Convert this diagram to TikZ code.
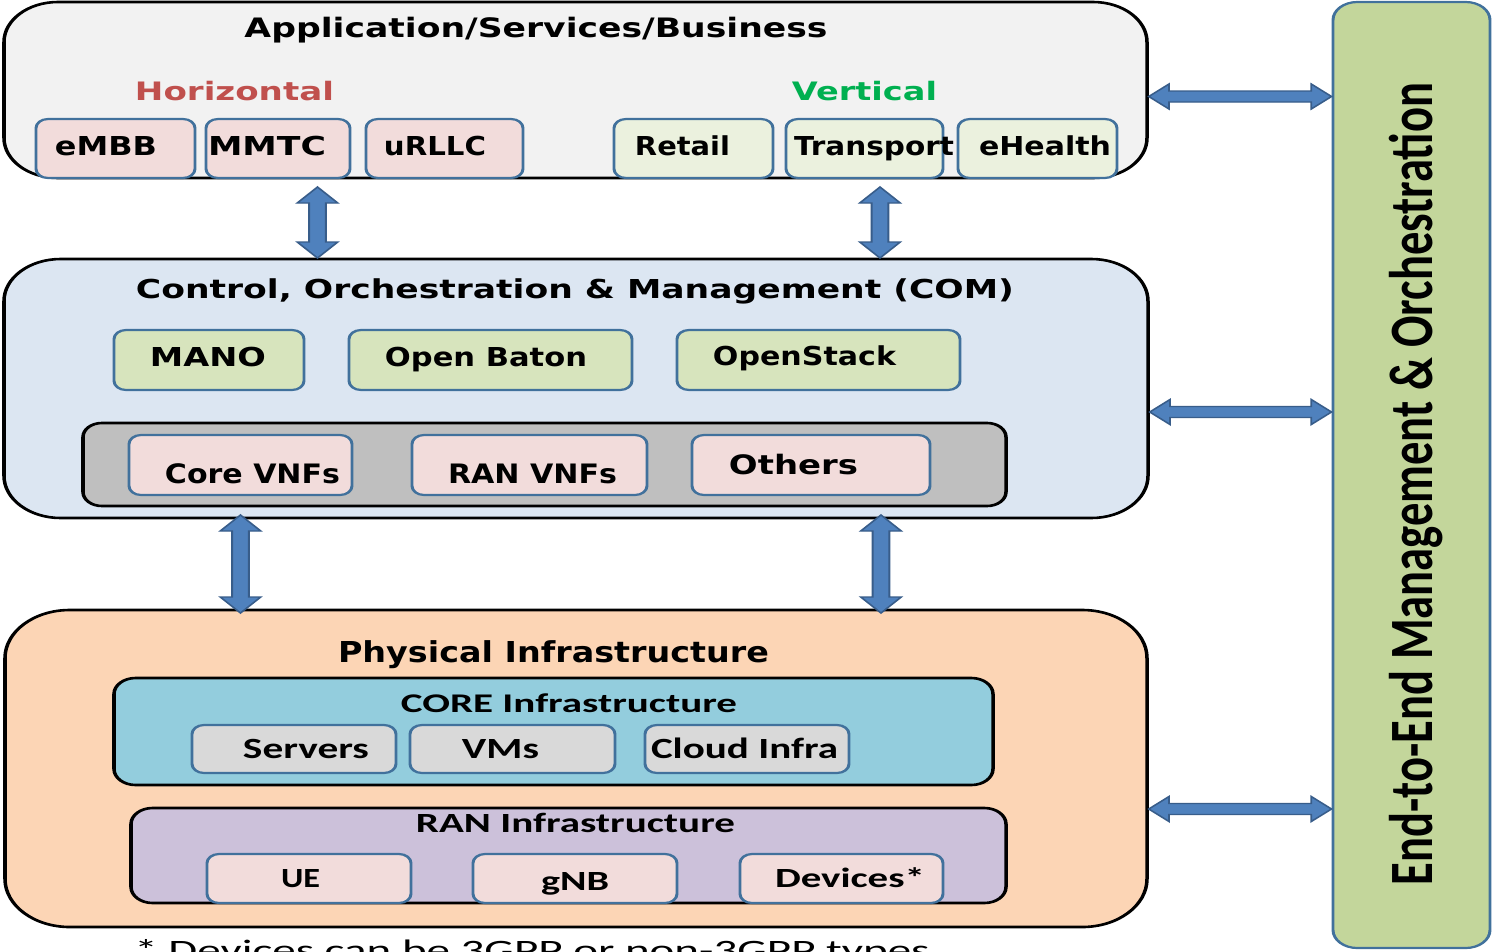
\documentclass[tikz,border=0pt]{standalone}
\usepackage{fontspec}
\usepackage{graphicx}
\usetikzlibrary{fit,calc}
\newfontfamily\tahfont{DejaVu Sans}
\newfontfamily\calfont{Carlito}
\definecolor{appfill}{HTML}{F2F2F2}
\definecolor{comfill}{HTML}{DCE6F2}
\definecolor{phyfill}{HTML}{FCD5B5}
\definecolor{grayfill}{HTML}{BFBFBF}
\definecolor{corefill}{HTML}{93CDDD}
\definecolor{ranfill}{HTML}{CCC1DA}
\definecolor{pinkfill}{HTML}{F2DCDB}
\definecolor{palegreen}{HTML}{EBF1DE}
\definecolor{greenfill}{HTML}{D7E4BD}
\definecolor{srvfill}{HTML}{D9D9D9}
\definecolor{barfill}{HTML}{C3D69B}
\definecolor{boxblue}{HTML}{41719C}
\definecolor{arrowfill}{HTML}{4F81BD}
\definecolor{arrowline}{HTML}{385D8A}
\definecolor{hred}{HTML}{C0504D}
\definecolor{vgreen}{HTML}{00B050}
% fit text to ink width (px) and cap height (px); width is pre-stretch corrected
\newcommand\fitt[3]{\resizebox{\dimexpr #1pt/27*20\relax}{#2pt}{\rule{0pt}{\fontcharht\font`A}\smash{#3}}}
\newcommand\vbarrow[2]{\draw[barrow] let \p1=(#1), \p2=(#2) in
  (\x1,\y1) -- (\x1+15pt,\y1-16pt) -- (\x1+6.2pt,\y1-16pt) -- (\x1+6.2pt,\y2+16pt) --
  (\x1+15pt,\y2+16pt) -- (\x1,\y2) -- (\x1-15pt,\y2+16pt) -- (\x1-6.2pt,\y2+16pt) --
  (\x1-6.2pt,\y1-16pt) -- (\x1-15pt,\y1-16pt) -- cycle;}
\newcommand\hbarrow[2]{\draw[barrow] let \p1=(#1), \p2=(#2) in
  (\x1,\y1) -- (\x1+15pt,\y1+12.5pt) -- (\x1+15pt,\y1+5.5pt) -- (\x2-15pt,\y1+5.5pt) --
  (\x2-15pt,\y1+12.5pt) -- (\x2,\y1) -- (\x2-15pt,\y1-12.5pt) -- (\x2-15pt,\y1-5.5pt) --
  (\x1+15pt,\y1-5.5pt) -- (\x1+15pt,\y1-12.5pt) -- cycle;}
\tikzset{
  bigbox/.style={draw=black, line width=2.6pt, inner sep=0pt},
  smallbox/.style={draw=boxblue, line width=2.2pt, rounded corners=9pt, inner sep=0pt},
  lbl/.style={font=\tahfont\bfseries, inner sep=0pt, anchor=base, text=black},
  lblc/.style={font=\calfont\bfseries, inner sep=0pt, anchor=base, text=black},
  barrow/.style={fill=arrowfill, draw=arrowline, line width=1.4pt, line join=miter},
}
\begin{document}
\begin{tikzpicture}
\useasboundingbox (0,0) rectangle (1492pt,-951pt);
\fill[white] (0,0) rectangle (1492pt,-951pt);
\clip (0,0) rectangle (1492pt,-951pt);
\begin{scope}[x=0.740741pt, y=-1pt, transform canvas={xscale=1.35}]
% ---------- big boxes ----------
\node[bigbox, fill=appfill, rounded corners=40pt, fit={(4,2) (1147,178)}] (app) {};
\node[bigbox, fill=comfill, rounded corners=42pt, fit={(4,259) (1148,518)}] (com) {};
\node[bigbox, fill=phyfill, rounded corners=48pt, fit={(5,610) (1147,927)}] (phy) {};
\node[draw=boxblue, line width=2.2pt, inner sep=0pt, fill=barfill, rounded corners=18pt, fit={(1333,2) (1490,948)}] (bar) {};
% ---------- application layer ----------
\node[lbl] (tapp) at (536,37) {\fitt{583}{19.5}{Application/Services/Business}};
\node[lbl, text=hred] (thor) at (234.5,100) {\fitt{199}{18.5}{Horizontal}};
\node[lbl, text=vgreen] (tver) at (864.5,100) {\fitt{145}{18.5}{Vertical}};
\node[smallbox, fill=pinkfill, fit={(36,119) (195,178)}] (bembb) {};
\node[smallbox, fill=pinkfill, fit={(206,119) (350,178)}] (bmmtc) {};
\node[smallbox, fill=pinkfill, fit={(366,119) (523,178)}] (burllc) {};
\node[smallbox, fill=palegreen, fit={(614,119) (773,178)}] (bretail) {};
\node[smallbox, fill=palegreen, fit={(786,119) (943,178)}] (btrans) {};
\node[smallbox, fill=palegreen, fit={(958,119) (1117,178)}] (bhealth) {};
\node[lbl] (tembb) at (106,155) {\fitt{102}{19}{eMBB}};
\node[lbl] (tmmtc) at (267,155) {\fitt{118}{19}{MMTC}};
\node[lbl] (turllc) at (435,155) {\fitt{102}{19}{uRLLC}};
\node[lbl] (tretail) at (682.5,155) {\fitt{95}{19}{Retail}};
\node[lbl] (ttrans) at (874,155) {\fitt{160}{19}{Transport}};
\node[lbl] (thealth) at (1045,155) {\fitt{132}{19}{eHealth}};
% ---------- COM layer ----------
\node[lbl] (tcom) at (575,298) {\fitt{878}{19}{Control, Orchestration \& Management (COM)}};
\node[smallbox, fill=greenfill, fit={(114,330) (304,390)}] (bmano) {};
\node[smallbox, fill=greenfill, fit={(349,330) (632,390)}] (bbaton) {};
\node[smallbox, fill=greenfill, fit={(677,330) (960,390)}] (bstack) {};
\node[lbl] (tmano) at (208,366) {\fitt{116}{19}{MANO}};
\node[lbl] (tbaton) at (486,366) {\fitt{202}{19}{Open Baton}};
\node[lbl] (tstack) at (804.5,365) {\fitt{183}{19}{OpenStack}};
\node[bigbox, fill=grayfill, rounded corners=14pt, fit={(83,423) (1006,506)}] (vnf) {};
\node[smallbox, fill=pinkfill, fit={(129,435) (352,495)}] (bcore) {};
\node[smallbox, fill=pinkfill, fit={(412,435) (647,495)}] (bran) {};
\node[smallbox, fill=pinkfill, fit={(692,435) (930,495)}] (bothers) {};
\node[lbl] (tcore) at (252.5,483) {\fitt{175}{19.5}{Core VNFs}};
\node[lbl] (tranv) at (532.5,483) {\fitt{169}{19.5}{RAN VNFs}};
\node[lbl] (tothers) at (793.5,474) {\fitt{129}{19.5}{Others}};
% ---------- physical layer ----------
\node[lbl] (tphy) at (553.5,662) {\fitt{431}{21}{Physical Infrastructure}};
\node[bigbox, fill=corefill, rounded corners=16pt, fit={(114,678) (993,785)}] (coreinf) {};
\node[lblc] (tcoreinf) at (569,712) {\fitt{336}{17.5}{CORE Infrastructure}};
\node[smallbox, fill=srvfill, fit={(192,725) (396,773)}] (bsrv) {};
\node[smallbox, fill=srvfill, fit={(410,725) (615,773)}] (bvms) {};
\node[smallbox, fill=srvfill, fit={(645,725) (849,773)}] (bcloud) {};
\node[lblc] (tsrv) at (306,758) {\fitt{126}{19}{Servers}};
\node[lblc] (tvms) at (500.5,758) {\fitt{77}{19}{VMs}};
\node[lblc] (tcloud) at (744.5,758) {\fitt{187}{19}{Cloud Infra}};
\node[bigbox, fill=ranfill, rounded corners=16pt, fit={(131,808) (1006,903)}] (raninf) {};
\node[lblc] (traninf) at (575.5,832) {\fitt{319}{18}{RAN Infrastructure}};
\node[smallbox, fill=pinkfill, fit={(207,854) (411,903)}] (bue) {};
\node[smallbox, fill=pinkfill, fit={(473,854) (677,903)}] (bgnb) {};
\node[smallbox, fill=pinkfill, fit={(740,854) (943,903)}] (bdev) {};
\node[lblc] (tue) at (300.5,887) {\fitt{39}{18}{UE}};
\node[lblc] (tgnb) at (575,890) {\fitt{68}{18}{gNB}};
\node[lblc] (tdev) at (850,887) {\fitt{150}{18}{Devices*}};
\node[font=\calfont, inner sep=0pt, anchor=base] (tnote) at (532,960) {\fitt{795}{19}{* Devices can be 3GPP or non-3GPP types}};
% ---------- end-to-end bar ----------
\node[lblc, rotate=90] (te2e) at (1432,484) {\resizebox{802pt}{29.6pt}{\rule{0pt}{\fontcharht\font`A}\smash{End-to-End Management \& Orchestration}}};
% ---------- arrows ----------
\coordinate (a1t) at (317.5,187); \coordinate (a1b) at (317.5,258);
\coordinate (a2t) at (880,187);   \coordinate (a2b) at (880,258);
\coordinate (a3t) at (240.5,515); \coordinate (a3b) at (240.5,613);
\coordinate (a4t) at (881,515);   \coordinate (a4b) at (881,613);
\vbarrow{a1t}{a1b}
\vbarrow{a2t}{a2b}
\vbarrow{a3t}{a3b}
\vbarrow{a4t}{a4b}
\coordinate (h1l) at (app.east |- 0,96.5);  \coordinate (h1r) at (bar.west |- 0,96.5);
\coordinate (h2l) at (com.east |- 0,412);   \coordinate (h2r) at (bar.west |- 0,412);
\coordinate (h3l) at (phy.east |- 0,809);   \coordinate (h3r) at (bar.west |- 0,809);
\hbarrow{h1l}{h1r}
\hbarrow{h2l}{h2r}
\hbarrow{h3l}{h3r}
\end{scope}
\end{tikzpicture}
\end{document}
